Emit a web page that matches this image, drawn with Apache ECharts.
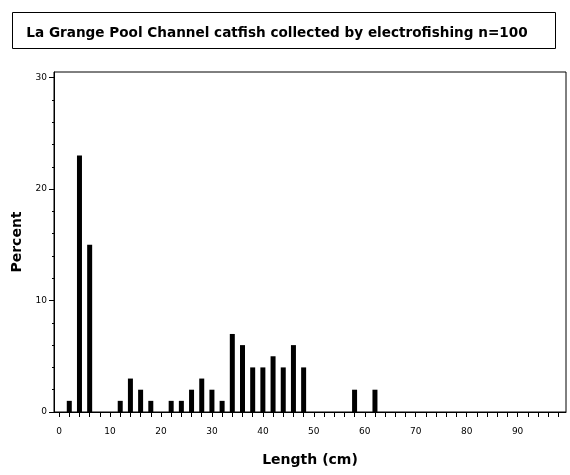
<!DOCTYPE html>
<html>
<head>
<meta charset="utf-8">
<script src="https://cdn.jsdelivr.net/npm/echarts@6/dist/echarts.min.js"></script>
<style>
  html, body { margin: 0; padding: 0; background: #fff; }
  #chart { width: 570px; height: 475px; }
</style>
</head>
<body>
<div id="chart"></div>
<script>
// length class midpoints (cm) and percent of fish
var lengths = [2, 4, 6, 12, 14, 16, 18, 22, 24, 26, 28, 30, 32, 34, 36, 38, 40, 42, 44, 46, 48, 58, 62];
var percents = [1, 23, 15, 1, 3, 2, 1, 1, 1, 2, 3, 2, 1, 7, 6, 4, 4, 5, 4, 6, 4, 2, 2];
var xLabels = [0, 10, 20, 30, 40, 50, 60, 70, 80, 90];
var yLabels = [0, 10, 20, 30];

// small ticks every 2 units
var xTicks = [];
for (var i = 0; i <= 98; i += 2) xTicks.push(i);
var yMinor = [];
for (var j = 0; j <= 30; j += 2) yMinor.push(j);

var font = 'DejaVu Sans, Verdana, sans-serif';
var myChart = echarts.init(document.getElementById('chart'));

var option = {
  animation: false,
  title: {
    text: 'La Grange Pool Channel catfish collected by electrofishing n=100',
    left: 272,
    top: 21,
    textAlign: 'center',
    textStyle: { fontFamily: font, fontSize: 13.6, fontWeight: 'bold', color: '#000' }
  },
  graphic: [
    {
      type: 'rect',
      shape: { x: 12.5, y: 12.5, width: 543, height: 36 },
      style: { fill: 'none', stroke: '#000', lineWidth: 1 }
    }
  ],
  grid: {
    left: 54,
    right: 4,
    top: 72,
    bottom: 63,
    show: true,
    borderColor: '#000',
    borderWidth: 1
  },
  xAxis: {
    type: 'value',
    min: -1,
    max: 99.5,
    name: 'Length (cm)',
    nameLocation: 'middle',
    nameGap: 41,
    nameTextStyle: { fontFamily: font, fontSize: 14, fontWeight: 'bold', color: '#000' },
    axisLine: { onZero: false, lineStyle: { color: '#000', width: 1 } },
    axisTick: { customValues: xTicks, length: 5, lineStyle: { color: '#000' } },
    axisLabel: { customValues: xLabels, fontFamily: font, fontSize: 9, color: '#000', margin: 15 },
    splitLine: { show: false }
  },
  yAxis: [
    {
      type: 'value',
      min: 0,
      max: 30.5,
      name: 'Percent',
      nameLocation: 'middle',
      nameGap: 29,
      nameTextStyle: { fontFamily: font, fontSize: 14, fontWeight: 'bold', color: '#000' },
      axisLine: { show: true, onZero: false, lineStyle: { color: '#000', width: 1 } },
      axisTick: { show: true, customValues: yLabels, length: 5, lineStyle: { color: '#000' } },
      axisLabel: { customValues: yLabels, fontFamily: font, fontSize: 9, color: '#000', margin: 7 },
      splitLine: { show: false }
    },
    {
      type: 'value',
      min: 0,
      max: 30.5,
      position: 'left',
      axisLine: { show: false, onZero: false },
      axisTick: { show: true, customValues: yMinor, length: 2, lineStyle: { color: '#000' } },
      axisLabel: { show: false },
      splitLine: { show: false }
    }
  ],
  series: [
    {
      name: 'Percent',
      type: 'bar',
      barWidth: 5,
      itemStyle: { color: '#000' },
      data: lengths.map(function (x, k) { return [x, percents[k]]; })
    }
  ]
};

myChart.setOption(option);
</script>
</body>
</html>
